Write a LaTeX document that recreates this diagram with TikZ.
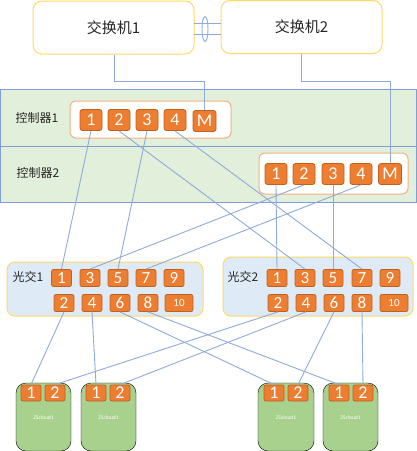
\documentclass[tikz,border=0pt]{standalone}
\usepackage{fontspec}
\usetikzlibrary{shapes.geometric}
\setmainfont{Carlito}
\newfontfamily\cjk{Noto Sans CJK SC}
\definecolor{linecol}{HTML}{8FAADC}
\definecolor{portfill}{HTML}{ED7D31}
\definecolor{portdraw}{HTML}{C0621F}
\definecolor{ctrlborder}{HTML}{F4B183}
\definecolor{swborder}{HTML}{FFD966}
\definecolor{bandfill}{HTML}{E2EFDA}
\definecolor{bandborder}{HTML}{7F9FD8}
\definecolor{oxfill}{HTML}{DEEBF7}
\definecolor{cloudfill}{HTML}{A9D18E}
\tikzset{
  link/.style={draw=linecol, line width=0.9pt},
  switchbox/.style={draw=swborder, fill=white, line width=1pt, rounded corners=9pt, minimum width=161pt, minimum height=53pt, font=\cjk\fontsize{15}{15}\selectfont, text=black!85},
  band/.style={draw=bandborder, fill=bandfill, line width=0.9pt},
  ctrlbox/.style={draw=ctrlborder, fill=white, line width=1pt, rounded corners=6pt},
  oxbox/.style={draw=swborder, fill=oxfill, line width=1pt, rounded corners=8pt},
  cloudbox/.style={fill=cloudfill, rounded corners=10pt},
  lab/.style={font=\cjk\fontsize{12}{12}\selectfont, text=black!85, inner sep=0pt},
  cport/.style={draw=portdraw, fill=portfill, rounded corners=2.5pt, text=white, minimum width=22pt, minimum height=21pt, inner sep=0pt, line width=0.8pt, font=\fontsize{18}{18}\selectfont},
  oport/.style={draw=portdraw, fill=portfill, rounded corners=2pt, text=white, minimum width=20pt, minimum height=17pt, inner sep=0pt, line width=0.8pt, font=\fontsize{17}{17}\selectfont},
  wport/.style={oport, minimum width=28pt, font=\fontsize{11}{11}\selectfont},
  zport/.style={draw=portdraw, fill=portfill, rounded corners=2pt, text=white, minimum width=20pt, minimum height=16pt, inner sep=0pt, line width=0.8pt, font=\fontsize{18}{18}\selectfont},
  ztext/.style={text=white, font=\fontsize{5.5}{5.5}\selectfont, inner sep=0pt}
}
\begin{document}
\begin{tikzpicture}[x=1pt,y=-1pt]
\useasboundingbox (0,0) rectangle (417,451);
% switches
\node[switchbox] (sw1) at (113.5,27.5) {交换机1};
\node[switchbox] (sw2) at (301.5,27) {交换机2};
\coordinate (sa1) at (194,23); \coordinate (sb1) at (221,23);
\coordinate (sa2) at (194,34); \coordinate (sb2) at (221,34);
\draw[link] (sa1) -- (sb1);
\draw[link] (sa2) -- (sb2);
\node[draw=linecol, line width=0.9pt, ellipse, minimum width=6pt, minimum height=25pt, inner sep=0pt] (lag) at (205,29) {};
% band
\draw[band] (0,89) rectangle (416,202);
\draw[draw=bandborder, line width=0.9pt] (0,146) -- (416,146);
\node[lab] (c1lab) at (37,118) {控制器1};
\node[lab] (c2lab) at (38,173) {控制器2};
% controller 1
\draw[ctrlbox] (70,101) rectangle (231,138);
\node[cport] (c1p1) at (91,120) {1};
\node[cport] (c1p2) at (119,120) {2};
\node[cport] (c1p3) at (147,120) {3};
\node[cport] (c1p4) at (175,120) {4};
\node[cport, minimum width=23pt] (c1pm) at (204.5,121) {M};
% controller 2
\draw[ctrlbox] (259,153) rectangle (408,194);
\node[cport] (c2p1) at (276,174) {1};
\node[cport] (c2p2) at (304,174) {2};
\node[cport] (c2p3) at (333,174) {3};
\node[cport] (c2p4) at (361,174) {4};
\node[cport, minimum width=23pt] (c2pm) at (390,174) {M};
% switch uplinks
\coordinate (k1) at (114,81); \coordinate (k2) at (204.5,81);
\coordinate (k3) at (301,81); \coordinate (k4) at (390,81);
\draw[link] (sw1.south -| k1) -- (k1) -- (k2) -- (c1pm.north);
\draw[link] (sw2.south -| k3) -- (k3) -- (k4) -- (c2pm.north);
% optical switch 1
\draw[oxbox] (7,262) rectangle (203,316);
\node[lab] (o1lab) at (28,277) {光交1};
\node[oport] (a1) at (61.5,278) {1};
\node[oport] (a3) at (90,278) {3};
\node[oport] (a5) at (118,278) {5};
\node[oport] (a7) at (146,278) {7};
\node[oport] (a9) at (174,278) {9};
\node[oport] (a2) at (64,303) {2};
\node[oport] (a4) at (92,303) {4};
\node[oport] (a6) at (120,303) {6};
\node[oport] (a8) at (148,303) {8};
\node[wport] (a10) at (179,303) {10};
% optical switch 2
\draw[oxbox] (223,257) rectangle (413,316);
\node[lab] (o2lab) at (243,277) {光交2};
\node[oport] (b1) at (277,278) {1};
\node[oport] (b3) at (305,278) {3};
\node[oport] (b5) at (333,278) {5};
\node[oport] (b7) at (362,278) {7};
\node[oport] (b9) at (390,278) {9};
\node[oport] (b2) at (278,303) {2};
\node[oport] (b4) at (306,303) {4};
\node[oport] (b6) at (334,303) {6};
\node[oport] (b8) at (362,303) {8};
\node[wport] (b10) at (394,303) {10};
% clouds
\draw[cloudbox] (16,383) rectangle (71,451);
\draw[cloudbox] (81,383) rectangle (136,451);
\draw[cloudbox] (258,383) rectangle (314,451);
\draw[cloudbox] (323,383) rectangle (378,451);
\node[ztext] (zt1) at (43.5,418) {ZScloud1};
\node[ztext] (zt2) at (108.5,418) {ZScloud1};
\node[ztext] (zt3) at (286,418) {ZScloud1};
\node[ztext] (zt4) at (350.5,418) {ZScloud1};
\node[zport] (z11) at (31,393) {1};
\node[zport] (z12) at (55,393) {2};
\node[zport] (z21) at (96,393) {1};
\node[zport] (z22) at (120,393) {2};
\node[zport] (z31) at (274,393) {1};
\node[zport] (z32) at (298,393) {2};
\node[zport] (z41) at (339,393) {1};
\node[zport] (z42) at (363,393) {2};
% controller to optical links
\draw[link] (c1p1.south) -- (a1.north);
\draw[link] (c1p2.south) -- (b3.north);
\draw[link] (c1p3.south) -- (a5.north);
\draw[link] (c1p4.south) -- (b7.north);
\draw[link] (c2p1.south) -- (b1.north);
\draw[link] (c2p2.south) -- (a3.north);
\draw[link] (c2p3.south) -- (b5.north);
\draw[link] (c2p4.south) -- (a7.north);
% optical to cloud links
\draw[link] (a2.south) -- (z11.north);
\draw[link] (a4.south) -- (z21.north);
\draw[link] (a6.south) -- (z31.north);
\draw[link] (a8.south) -- (z41.north);
\draw[link] (b2.south) -- (z12.north);
\draw[link] (b4.south) -- (z22.north);
\draw[link] (b6.south) -- (z32.north);
\draw[link] (b8.south) -- (z42.north);
\end{tikzpicture}
\end{document}
